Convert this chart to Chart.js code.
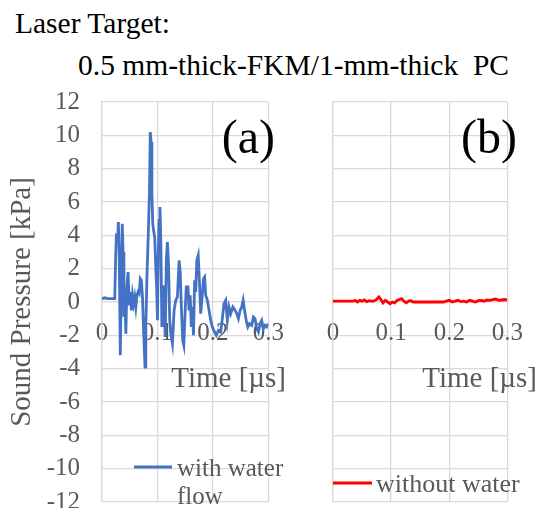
<!DOCTYPE html>
<html><head><meta charset="utf-8">
<script src="https://cdn.jsdelivr.net/npm/chart.js@4.4.0/dist/chart.umd.min.js"></script>
<style>
html,body{margin:0;padding:0;overflow:hidden;background:#fff;width:539px;height:508px;}
.ttl{position:absolute;font-family:"Liberation Serif","Times New Roman",serif;font-size:29.5px;color:#000;white-space:pre;line-height:1}
#wa{position:absolute;left:0;top:0;width:300px;height:520px}
#wb{position:absolute;left:300px;top:0;width:239px;height:520px}
</style></head>
<body>
<div class="ttl" style="left:15px;top:9px">Laser Target:</div>
<div class="ttl" style="left:78px;top:51px">0.5 mm-thick-FKM/1-mm-thick  PC</div>
<div id="wa"><canvas id="ca"></canvas></div>
<div id="wb"><canvas id="cb"></canvas></div>
<script>
// ---- data (time in µs, pressure in kPa) ----
const timeA = [0.000,0.005,0.010,0.015,0.020,0.023,0.0245,0.026,0.028,0.0295,0.031,0.033,0.035,0.0365,0.038,0.0395,0.041,0.043,0.045,0.047,0.049,0.051,0.053,0.055,0.057,0.059,0.061,0.063,0.065,0.067,0.069,0.071,0.073,0.075,0.0776,0.079,0.081,0.0835,0.0855,0.0871,0.0885,0.090,0.0915,0.093,0.095,0.097,0.0985,0.100,0.1015,0.103,0.1045,0.106,0.108,0.110,0.112,0.114,0.116,0.118,0.120,0.122,0.124,0.127,0.130,0.133,0.136,0.139,0.141,0.143,0.1455,0.1475,0.150,0.152,0.155,0.157,0.159,0.161,0.163,0.165,0.167,0.169,0.171,0.1735,0.176,0.178,0.181,0.183,0.185,0.187,0.190,0.193,0.196,0.199,0.203,0.206,0.210,0.214,0.217,0.220,0.223,0.226,0.229,0.232,0.236,0.240,0.243,0.246,0.249,0.252,0.2545,0.257,0.260,0.263,0.266,0.270,0.273,0.276,0.279,0.282,0.285,0.288,0.291,0.294,0.297,0.300];
const pressureA = [0.2,0.25,0.2,0.2,0.2,0.2,2.5,4.1,3.6,4.8,3.0,-3.2,1.5,4.7,3.0,-0.9,0.8,-1.9,1.0,1.8,-0.2,0.6,-0.5,0.4,-0.1,0.3,-0.3,0.4,0.6,0.5,1.4,1.3,0.3,-1.7,-3.9,-1.5,1.5,4.1,6.5,10.2,9.6,6.5,4.7,4.3,3.9,2.0,0.9,-1.1,3.0,4.9,5.7,3.8,-1.5,1.0,-0.3,-2.1,2.5,3.6,2.2,-1.0,-1.9,-2.5,-0.5,0.1,0.3,2.5,1.8,-0.2,-2.3,-2.6,-0.5,0.9,0.9,-0.5,0.4,-1.5,-0.3,-2.0,1.3,0.6,2.5,2.8,1.0,-0.7,0.5,1.4,1.5,0.4,0.1,-0.5,-1.1,-1.5,-1.8,-2.0,-1.7,-1.8,-1.0,-0.1,0.1,-1.1,-0.3,-0.7,-0.3,-0.5,-0.7,-1.0,-0.5,-0.3,0.1,-0.5,-1.1,-1.5,-1.3,-1.4,-0.9,-1.0,-1.6,-1.8,-1.3,-1.1,-1.6,-1.4,-1.5,-1.3];
const timeB = [0.000,0.035,0.038,0.042,0.046,0.050,0.054,0.058,0.062,0.066,0.070,0.075,0.079,0.083,0.086,0.090,0.094,0.098,0.102,0.106,0.110,0.114,0.118,0.122,0.126,0.130,0.134,0.138,0.142,0.150,0.160,0.170,0.180,0.190,0.195,0.200,0.205,0.210,0.215,0.220,0.225,0.230,0.235,0.240,0.245,0.250,0.255,0.260,0.265,0.270,0.275,0.280,0.285,0.290,0.295,0.300];
const pressureB = [0.05,0.05,0.1,0.0,0.1,0.05,0.12,0.02,0.08,0.05,0.05,0.15,0.3,0.12,-0.05,0.1,0.0,-0.1,0.0,-0.05,0.1,0.15,0.2,0.05,-0.05,0.05,0.08,0.0,0.0,0.0,0.0,0.0,0.0,0.0,0.05,0.1,0.0,0.05,0.1,0.02,0.05,0.0,0.1,0.05,0.0,0.08,0.1,0.05,0.12,0.1,0.15,0.18,0.1,0.12,0.15,0.12];
const seriesNames = ['with water flow', 'without water'];
const panelLabels = ['(a)', '(b)'];
const xTitle = 'Time [µs]';
const yTitle = 'Sound Pressure [kPa]';
const yRange = [-12, 12];
const xRange = [0, 0.3];

// ---- styling ----
const SERIF = '"Liberation Serif", "Times New Roman", serif';
const GRID = '#d9d9d9';
const TXT = '#595959';

const overlay = {
  id: 'overlay',
  afterDraw(chart, args, opts) {
    const ctx = chart.ctx;
    ctx.save();
    (opts.texts || []).forEach(t => {
      ctx.font = t.font; ctx.fillStyle = t.color; ctx.textAlign = t.align || 'left';
      ctx.textBaseline = 'alphabetic';
      ctx.fillText(t.text, t.x, t.y);
    });
    const lg = opts.legend;
    if (lg) {
      const ds = chart.data.datasets[0];
      ctx.strokeStyle = ds.borderColor; ctx.lineWidth = ds.borderWidth;
      ctx.beginPath(); ctx.moveTo(lg.x1, lg.y); ctx.lineTo(lg.x2, lg.y); ctx.stroke();
      ctx.font = lg.font; ctx.fillStyle = TXT; ctx.textAlign = 'left'; ctx.textBaseline = 'alphabetic';
      const words = ds.label.split(' '); const lines = []; let cur = '';
      words.forEach(w => {
        const test = cur ? cur + ' ' + w : w;
        if (cur && ctx.measureText(test).width > lg.maxWidth) { lines.push(cur); cur = w; } else cur = test;
      });
      lines.push(cur);
      lines.forEach((l, i) => ctx.fillText(l, lg.tx, lg.ty + i * lg.lh));
    }
    ctx.restore();
  }
};

function pts(t, v) { return t.map((x, i) => ({x: x, y: v[i]})); }

function makeChart(canvasId, data, label, color, cfg) {
  return new Chart(document.getElementById(canvasId), {
    type: 'line',
    data: { datasets: [{ label: label, data: data, borderColor: color, backgroundColor: color,
      borderWidth: 2.8, pointRadius: 0, tension: 0, fill: false }] },
    options: {
      responsive: true, maintainAspectRatio: false, animation: false, devicePixelRatio: 1,
      layout: { padding: cfg.padding },
      plugins: { legend: { display: false }, tooltip: { enabled: false }, overlay: cfg.overlay },
      scales: {
        x: { type: 'linear', min: xRange[0], max: xRange[1], position: { y: 0 },
          ticks: { stepSize: 0.1, color: TXT, font: { family: SERIF, size: 25 }, padding: 16, maxRotation: 0 },
          grid: { color: GRID, lineWidth: 1.3, drawTicks: false },
          border: { color: GRID, width: 1.3 } },
        y: { type: 'linear', min: yRange[0], max: yRange[1],
          ticks: { stepSize: 2, color: TXT, font: { family: SERIF, size: 25, lineHeight: 1 }, padding: 0, display: cfg.yLabels },
          grid: { color: GRID, lineWidth: 1.3, drawTicks: cfg.yLabels, tickLength: 22, tickColor: 'rgba(0,0,0,0)' },
          border: { color: GRID, width: 1.3 },
          title: { display: cfg.yLabels, text: yTitle, color: TXT, font: { family: SERIF, size: 29 }, padding: { top: 5, bottom: 0 } },
          afterFit: s => { s.width = cfg.yWidth; } }
      }
    },
    plugins: [overlay]
  });
}

makeChart('ca', pts(timeA, pressureA), seriesNames[0], '#4472C4', {
  padding: { left: 0, top: 102, right: 19, bottom: 18 }, yLabels: true, yWidth: 102,
  overlay: {
    texts: [
      { text: panelLabels[0], x: 275, y: 153, font: '48px ' + SERIF, color: '#000', align: 'right' },
      { text: xTitle, x: 286, y: 387, font: '29px ' + SERIF, color: TXT, align: 'right' }
    ],
    legend: { x1: 134, x2: 172, y: 467, tx: 177, ty: 476, lh: 28, maxWidth: 120, font: '25px ' + SERIF }
  }
});

makeChart('cb', pts(timeB, pressureB), seriesNames[1], '#FF0000', {
  padding: { left: 0, top: 102, right: 29, bottom: 18 }, yLabels: false, yWidth: 33,
  overlay: {
    texts: [
      { text: panelLabels[1], x: 217, y: 153, font: '48px ' + SERIF, color: '#000', align: 'right' },
      { text: xTitle, x: 237, y: 387, font: '29px ' + SERIF, color: TXT, align: 'right' }
    ],
    legend: { x1: 33, x2: 72, y: 483, tx: 76, ty: 492, lh: 28, maxWidth: 200, font: '26px ' + SERIF }
  }
});
</script>
</body></html>
